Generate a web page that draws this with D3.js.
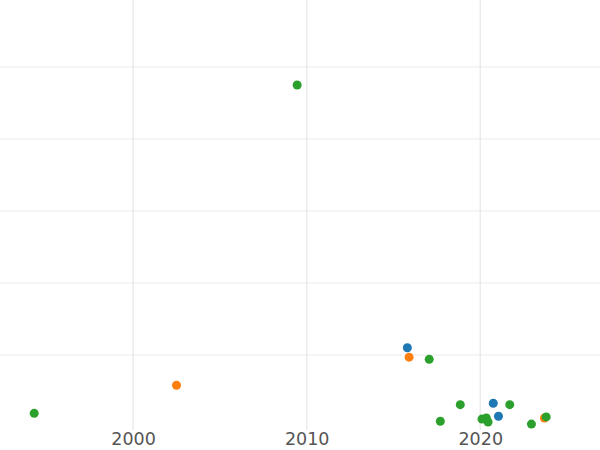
<!DOCTYPE html>
<html>
<head>
<meta charset="UTF-8">
<style>
  body { margin: 0; background: #fff; }
  .tick text { font: 17.5px "DejaVu Sans", sans-serif; fill: #555; }
</style>
</head>
<body>
<svg id="chart" width="600" height="450"></svg>
<script src="https://d3js.org/d3.v7.min.js"></script>
<script>
// data
const years  = [1994.3, 2002.5, 2009.45, 2015.8, 2015.9, 2017.06, 2017.7, 2018.85, 2020.1, 2020.35, 2020.45, 2020.75, 2021.05, 2021.7, 2022.95, 2023.7, 2023.8];
const values = [0.19, 0.58, 4.75, 1.10, 0.97, 0.94, 0.08, 0.31, 0.11, 0.125, 0.07, 0.33, 0.15, 0.31, 0.04, 0.125, 0.14];
const groups = ["c", "b", "c", "a", "b", "c", "c", "c", "c", "c", "c", "a", "a", "c", "c", "b", "c"];
const xTicks = [2000, 2010, 2020];
const yGrid  = [1, 2, 3, 4, 5];

const svg = d3.select('#chart');
const x = d3.scaleLinear().domain([1992.33, 2026.9]).range([0, 600]);
const y = d3.scaleLinear().domain([0, 5.93]).range([427, 0]);
const color = d3.scaleOrdinal().domain(["a","b","c"]).range(["#1f77b4","#ff7f0e","#2ca02c"]);

// grid
svg.append("g").selectAll("line").data(yGrid).join("line")
  .attr("x1", 0).attr("x2", 600).attr("y1", d => y(d)).attr("y2", d => y(d))
  .attr("stroke", "#ebebeb").attr("stroke-width", 1);
svg.append("g").selectAll("line").data(xTicks).join("line")
  .attr("x1", d => x(d)).attr("x2", d => x(d)).attr("y1", 0).attr("y2", 430)
  .attr("stroke", "#ebebeb").attr("stroke-width", 1.5);

// x axis labels only
const ax = svg.append("g").attr("transform", "translate(0,428)")
  .call(d3.axisBottom(x).tickValues(xTicks).tickFormat(d3.format("d")).tickSize(0).tickPadding(5));
ax.select(".domain").remove();

// points
svg.append("g").selectAll("circle").data(years).join("circle")
  .attr("cx", d => x(d)).attr("cy", (d, i) => y(values[i]))
  .attr("r", 4.5).attr("fill", (d, i) => color(groups[i]));
</script>
</body>
</html>
